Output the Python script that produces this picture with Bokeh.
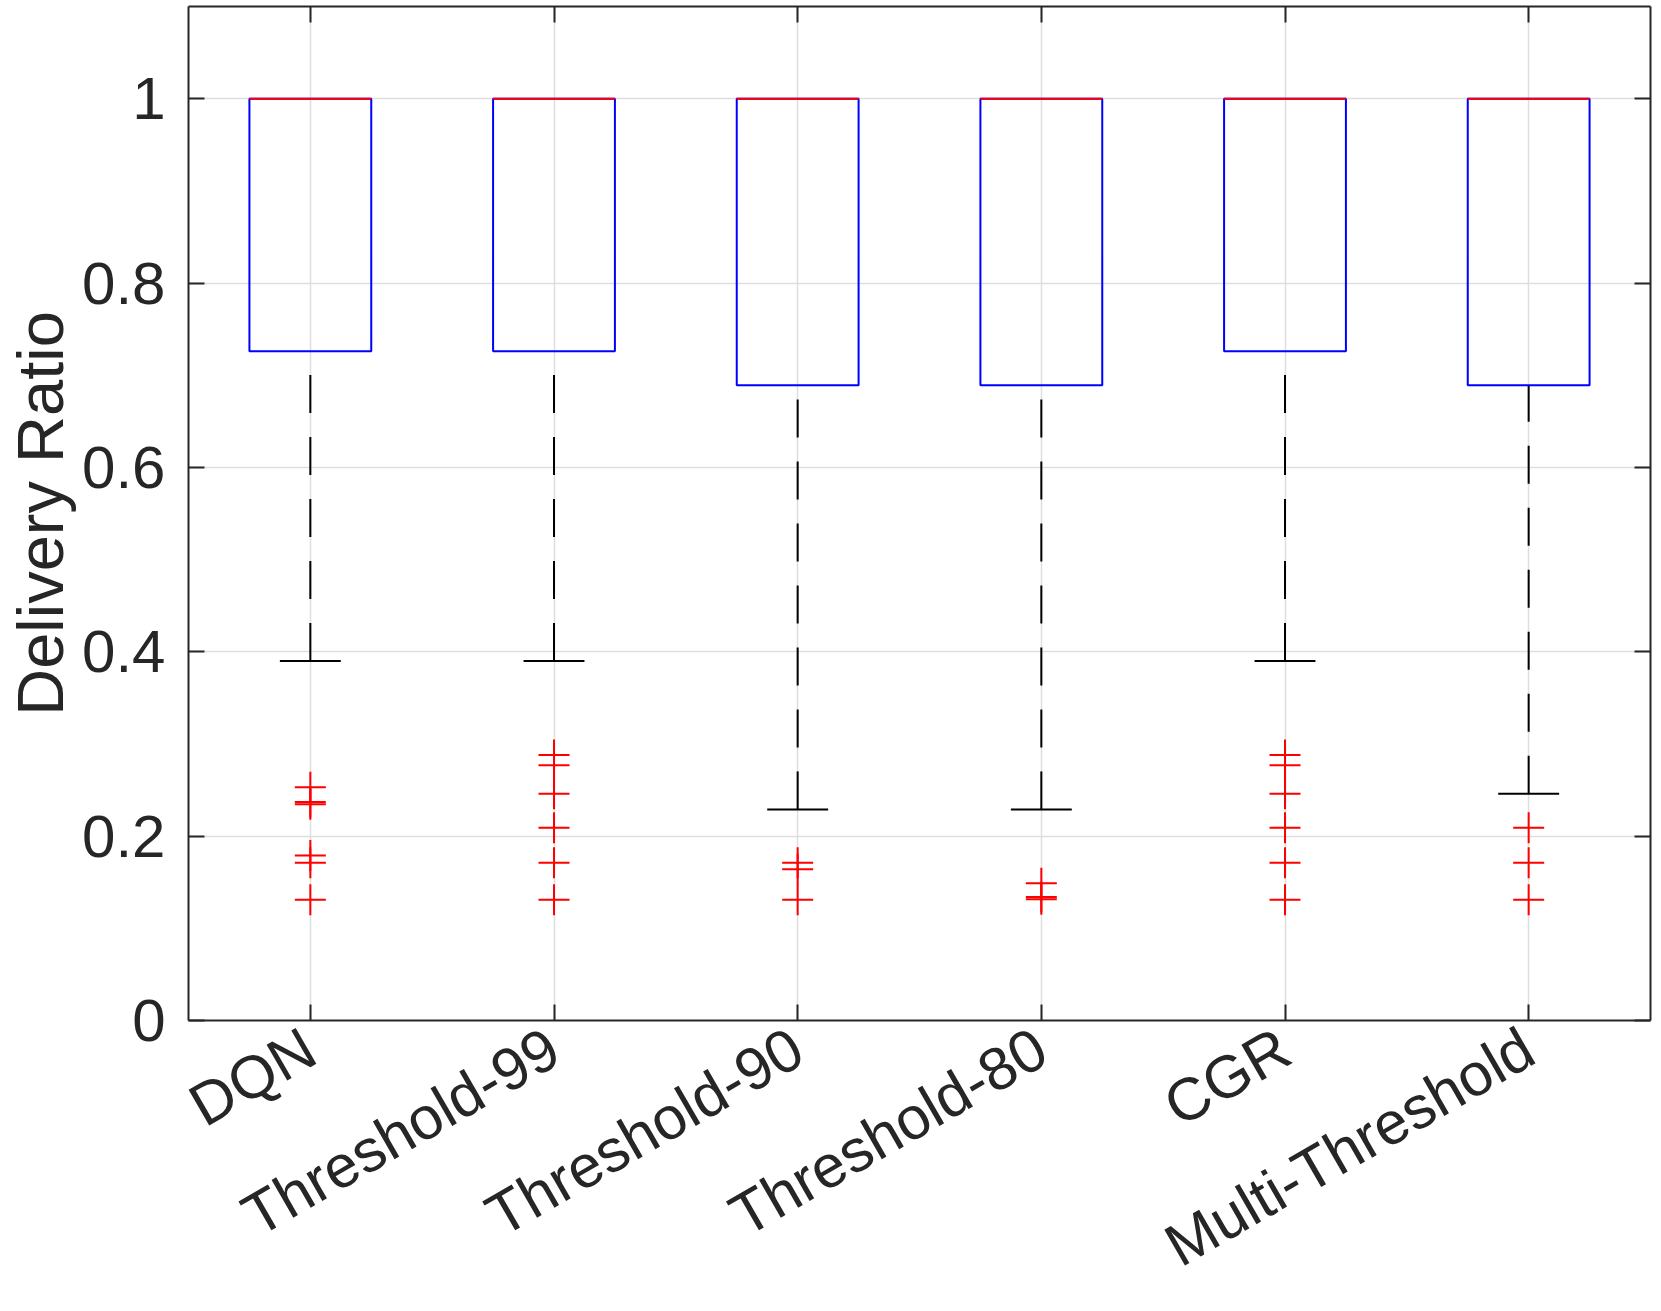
import math
from bokeh.plotting import figure
from bokeh.models import Range1d, FixedTicker, LinearAxis, ColumnDataSource
from bokeh.embed import file_html
from bokeh.resources import INLINE

# ---------------- data ----------------
categories = ["DQN", "Threshold-99", "Threshold-90", "Threshold-80", "CGR", "Multi-Threshold"]
positions = [1, 2, 3, 4, 5, 6]
q1 = [0.726, 0.726, 0.689, 0.689, 0.726, 0.689]
median = [1.0, 1.0, 1.0, 1.0, 1.0, 1.0]
q3 = [1.0, 1.0, 1.0, 1.0, 1.0, 1.0]
lower_whisker = [0.390, 0.390, 0.229, 0.229, 0.390, 0.246]

outliers_dqn = [0.253, 0.237, 0.2345, 0.179, 0.171, 0.131]
outliers_t99 = [0.288, 0.277, 0.246, 0.209, 0.171, 0.131]
outliers_t90 = [0.171, 0.164, 0.131]
outliers_t80 = [0.149, 0.134, 0.1315]
outliers_cgr = [0.288, 0.277, 0.246, 0.209, 0.171, 0.131]
outliers_mt = [0.209, 0.171, 0.131]

y_ticks = [0, 0.2, 0.4, 0.6, 0.8, 1.0]
y_tick_labels = ["0", "0.2", "0.4", "0.6", "0.8", "1"]
y_label = "Delivery Ratio"

# ---------------- styles ----------------
FONT = "Liberation Sans"
TXT = "#262626"
BOX_HALF = 0.25
CAP_HALF = 0.125

outlier_groups = [outliers_dqn, outliers_t99, outliers_t90, outliers_t80, outliers_cgr, outliers_mt]
ox, oy = [], []
for pos, vals in zip(positions, outlier_groups):
    for v in vals:
        ox.append(pos)
        oy.append(v)

box_src = ColumnDataSource(dict(
    x=positions,
    left=[p - BOX_HALF for p in positions],
    right=[p + BOX_HALF for p in positions],
    cap_l=[p - CAP_HALF for p in positions],
    cap_r=[p + CAP_HALF for p in positions],
    q1=q1, q3=q3, med=median, lw=lower_whisker,
))
out_src = ColumnDataSource(dict(x=ox, y=oy))

p = figure(width=1661, height=1311, output_backend="svg", toolbar_location=None,
           x_range=Range1d(0.5, 6.5), y_range=Range1d(0, 1.1),
           min_border_left=188, min_border_right=11, min_border_top=6, min_border_bottom=291,
           x_axis_location=None, y_axis_location=None)
p.outline_line_color = None
p.background_fill_color = "white"
p.border_fill_color = "white"

def style_axis(ax, ticks, labels=None, show_labels=True):
    ax.ticker = FixedTicker(ticks=ticks)
    ax.axis_line_color = TXT
    ax.axis_line_width = 2
    ax.major_tick_line_color = TXT
    ax.major_tick_line_width = 2
    ax.major_tick_in = 16
    ax.major_tick_out = 0
    ax.minor_tick_line_color = None
    ax.major_label_text_font = FONT
    ax.major_label_text_color = TXT
    if show_labels:
        ax.major_label_text_font_size = "60px"
        if labels is not None:
            ax.major_label_overrides = {t: l for t, l in zip(ticks, labels)}
    else:
        ax.major_label_text_font_size = "0px"
        ax.major_label_standoff = 0
        ax.major_label_overrides = {t: "" for t in ticks}

xb = LinearAxis()
style_axis(xb, positions, categories)
xb.major_label_orientation = math.pi / 6
xb.major_label_standoff = 23
p.add_layout(xb, "below")

yl = LinearAxis()
style_axis(yl, y_ticks, y_tick_labels)
yl.major_label_standoff = 23
yl.axis_label = y_label
yl.axis_label_text_font = FONT
yl.axis_label_text_font_size = "65px"
yl.axis_label_text_font_style = "normal"
yl.axis_label_text_color = TXT
yl.axis_label_standoff = 2
p.add_layout(yl, "left")

xt = LinearAxis()
style_axis(xt, positions, show_labels=False)
p.add_layout(xt, "above")

yr = LinearAxis()
style_axis(yr, y_ticks, show_labels=False)
p.add_layout(yr, "right")

p.xgrid.ticker = FixedTicker(ticks=positions)
p.ygrid.ticker = FixedTicker(ticks=y_ticks)
for g in (p.xgrid, p.ygrid):
    g.grid_line_color = "#dedede"
    g.grid_line_width = 1.5

# whiskers (dashed), caps
p.segment(x0="x", y0="lw", x1="x", y1="q1", source=box_src,
          line_color="black", line_width=2, line_dash="38 24")
p.segment(x0="cap_l", y0="lw", x1="cap_r", y1="lw", source=box_src,
          line_color="black", line_width=2)
# boxes
p.quad(left="left", right="right", bottom="q1", top="q3", source=box_src,
       fill_color=None, line_color="#0000ff", line_width=2)
# medians
p.segment(x0="left", y0="med", x1="right", y1="med", source=box_src,
          line_color="#ff0000", line_width=2)
# outliers
p.scatter(x="x", y="y", source=out_src, marker="cross", size=31,
          line_color="#ff0000", line_width=2)

open("out.html", "w").write(file_html(p, INLINE))
